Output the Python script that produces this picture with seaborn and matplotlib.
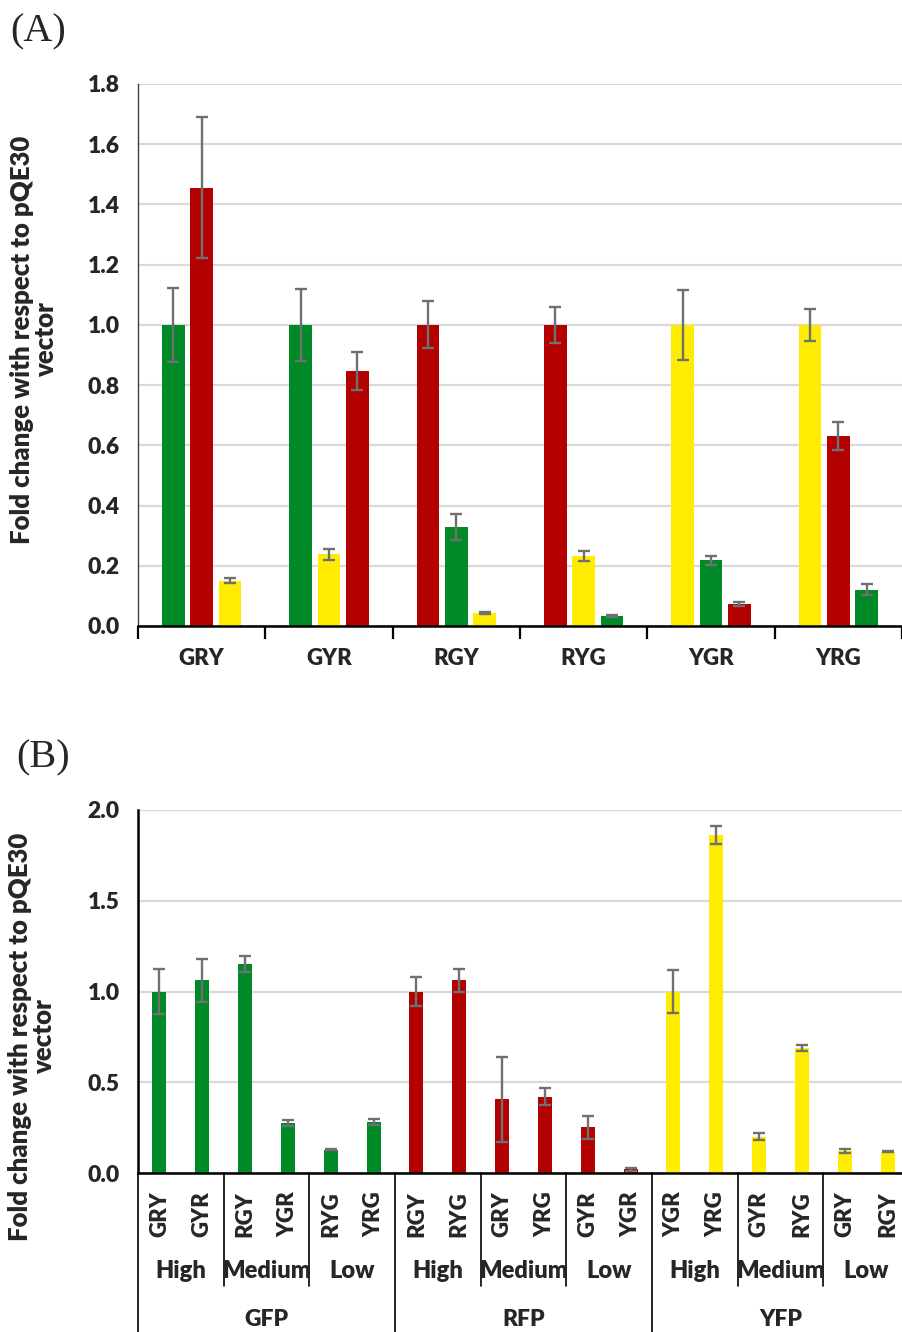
import numpy as np
import pandas as pd
import matplotlib
matplotlib.use("Agg")
import matplotlib.pyplot as plt
import matplotlib.transforms as mtransforms
from matplotlib.container import BarContainer
import seaborn as sns

# ---------------- data ----------------
# Panel A
a_groups = ["GRY", "GYR", "RGY", "RYG", "YGR", "YRG"]
a_vals_1 = [1.00, 1.00, 1.00, 1.00, 1.00, 1.00]
a_vals_2 = [1.456, 0.238, 0.330, 0.232, 0.218, 0.632]
a_vals_3 = [0.151, 0.846, 0.043, 0.032, 0.073, 0.121]
a_err_1 = [0.123, 0.120, 0.078, 0.061, 0.116, 0.052]
a_err_2 = [0.233, 0.019, 0.043, 0.016, 0.016, 0.047]
a_err_3 = [0.009, 0.063, 0.002, 0.003, 0.007, 0.018]

# Panel B
b_labels = ["GRY", "GYR", "RGY", "YGR", "RYG", "YRG",
            "RGY", "RYG", "GRY", "YRG", "GYR", "YGR",
            "YGR", "YRG", "GYR", "RYG", "GRY", "RGY"]
b_vals = [1.00, 1.061, 1.153, 0.275, 0.127, 0.280,
          1.00, 1.061, 0.406, 0.419, 0.251, 0.020,
          1.00, 1.862, 0.201, 0.688, 0.120, 0.118]
b_errs = [0.123, 0.120, 0.043, 0.016, 0.003, 0.018,
          0.078, 0.061, 0.233, 0.047, 0.063, 0.008,
          0.116, 0.052, 0.020, 0.015, 0.010, 0.003]
b_protein = ["GFP"] * 6 + ["RFP"] * 6 + ["YFP"] * 6
b_level = ["High", "High", "Medium", "Medium", "Low", "Low"] * 3

letter_color = {"G": "#008A27", "R": "#B30000", "Y": "#FFEC00"}
protein_color = {"GFP": "#008A27", "RFP": "#B30000", "YFP": "#FFEC00"}
err_color = "#707070"

# ---------------- style ----------------
sns.set_style("white")
plt.rcParams["font.family"] = ["Lato", "DejaVu Sans"]
plt.rcParams["font.weight"] = "bold"
FW = "heavy"

fig = plt.figure(figsize=(9.02, 13.32), dpi=100)
W, H = 902.0, 1332.0

def axes_px(l, t, r, b):
    return fig.add_axes([l / W, 1 - b / H, (r - l) / W, (b - t) / H])

axA = axes_px(138, 84, 902, 626)
axB = axes_px(138, 810, 909, 1173)

# ---------------- panel A ----------------
rows = []
vals = [a_vals_1, a_vals_2, a_vals_3]
errs = [a_err_1, a_err_2, a_err_3]
for gi, g in enumerate(a_groups):
    for p in range(3):
        rows.append(dict(group=g, pos=p, value=vals[p][gi], err=errs[p][gi],
                         color=letter_color[g[p]]))
dfA = pd.DataFrame(rows)

sns.barplot(data=dfA, x="group", y="value", hue="pos", order=a_groups,
            dodge=True, width=0.67, gap=0.2, errorbar=None, legend=False,
            palette=["#888888"] * 3, saturation=1, ax=axA, zorder=2)
bar_conts = [c for c in axA.containers if isinstance(c, BarContainer)]
for p, cont in enumerate(bar_conts):
    for gi, patch in enumerate(cont.patches):
        row = dfA[(dfA.group == a_groups[gi]) & (dfA.pos == p)].iloc[0]
        patch.set_facecolor(row.color)
        patch.set_edgecolor("none")
        cx = patch.get_x() + patch.get_width() / 2
        axA.errorbar(cx, row.value, yerr=row.err, color=err_color, lw=1.7,
                     capsize=4.5, capthick=1.7, zorder=3)

axA.set_ylim(0, 1.8)
axA.set_xlim(-0.5, 5.5)
axA.set_yticks(np.arange(0, 1.81, 0.2))
axA.set_yticklabels([f"{v:.1f}" for v in np.arange(0, 1.81, 0.2)], fontsize=16.5, fontweight=FW)
axA.yaxis.grid(True, color="#d9d9d9", lw=1.6)
axA.set_axisbelow(True)
axA.set_xticks(np.arange(-0.5, 6.0, 1.0))
axA.set_xticklabels([])
axA.set_xticks(np.arange(6), minor=True)
axA.set_xticklabels(a_groups, minor=True, fontsize=16, fontweight=FW)
axA.tick_params(axis="x", which="major", length=9, width=1.6, direction="out", color="black", bottom=True)
axA.tick_params(axis="x", which="minor", length=0, pad=16)
axA.tick_params(axis="y", length=0, pad=13)
for s in ["top", "right"]:
    axA.spines[s].set_visible(False)
axA.spines["left"].set_color("#404040")
axA.spines["left"].set_linewidth(1.0)
axA.spines["bottom"].set_color("black")
axA.spines["bottom"].set_linewidth(1.8)
axA.set_xlabel("")
axA.set_ylabel("Fold change with respect to pQE30\nvector", fontsize=18.5,
               fontweight=FW, linespacing=1.0)
axA.yaxis.set_label_coords(-0.105, 0.528)

# ---------------- panel B ----------------
dfB = pd.DataFrame(dict(idx=[str(i) for i in range(len(b_vals))], value=b_vals,
                        err=b_errs, protein=b_protein))
order = list(dfB.idx)
sns.barplot(data=dfB, x="idx", y="value", hue="idx", order=order, hue_order=order,
            palette=[protein_color[p] for p in b_protein], width=0.33, saturation=1,
            errorbar=None, legend=False, ax=axB, zorder=2)
bar_contsB = [c for c in axB.containers if isinstance(c, BarContainer)]
for i, cont in enumerate(bar_contsB):
    for patch in cont.patches:
        patch.set_edgecolor("none")
        cx = patch.get_x() + patch.get_width() / 2
        axB.errorbar(cx, b_vals[i], yerr=b_errs[i], color=err_color, lw=1.7,
                     capsize=4.5, capthick=1.7, zorder=3)

axB.set_ylim(0, 2.0)
axB.set_xlim(-0.5, 17.5)
axB.set_yticks(np.arange(0, 2.01, 0.5))
axB.set_yticklabels([f"{v:.1f}" for v in np.arange(0, 2.01, 0.5)], fontsize=16.5, fontweight=FW)
axB.yaxis.grid(True, color="#d9d9d9", lw=1.6)
axB.set_axisbelow(True)
axB.set_xticks(range(18))
axB.set_xticklabels(b_labels, rotation=90, fontsize=16, fontweight=FW, va="top")
axB.tick_params(axis="x", length=0, pad=13)
axB.tick_params(axis="y", length=0, pad=13)
for s in ["top", "right"]:
    axB.spines[s].set_visible(False)
axB.spines["left"].set_color("black")
axB.spines["left"].set_linewidth(1.8)
axB.spines["bottom"].set_color("black")
axB.spines["bottom"].set_linewidth(1.8)
axB.set_xlabel("")
axB.set_ylabel("Fold change with respect to pQE30\nvector", fontsize=18.5,
               fontweight=FW, linespacing=1.0)
axB.yaxis.set_label_coords(-0.106, 0.375)

def yfrac(px):
    return (1173 - px) / 363.0

trans = mtransforms.blended_transform_factory(axB.transData, axB.transAxes)
for k in range(0, 18, 2):
    x = k - 0.5
    if k % 6 == 0:
        y_end = yfrac(1332)
    else:
        y_end = yfrac(1286)
    axB.plot([x, x], [0, y_end], transform=trans, color="black", lw=1.2, clip_on=False)

for k in range(0, 18, 2):
    axB.text(k + 0.5, yfrac(1271), b_level[k], transform=trans, ha="center", va="center",
             fontsize=17, fontweight=FW)
for k in range(0, 18, 6):
    axB.text(k + 2.5, yfrac(1319), b_protein[k], transform=trans, ha="center", va="center",
             fontsize=16.5, fontweight=FW)

fig.text(10 / W, 1 - 32 / H, "(A)", family="Liberation Serif", fontsize=29,
         fontweight="normal", ha="left", va="center")
fig.text(16 / W, 1 - 758 / H, "(B)", family="Liberation Serif", fontsize=29,
         fontweight="normal", ha="left", va="center")

fig.savefig("out.png", dpi=100)
